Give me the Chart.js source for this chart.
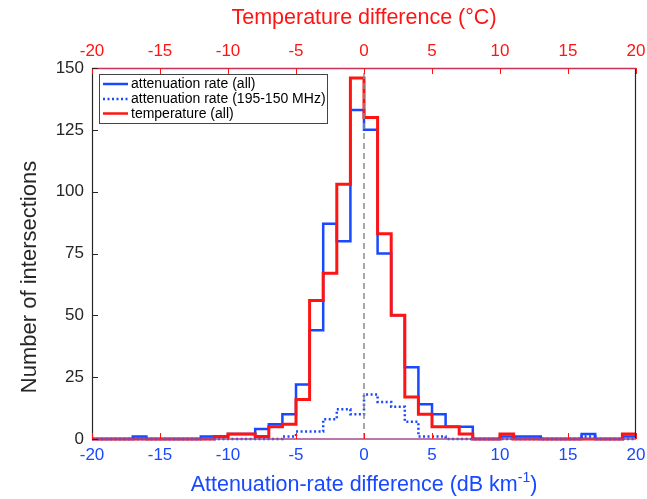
<!DOCTYPE html>
<html><head><meta charset="utf-8">
<script src="https://cdn.jsdelivr.net/npm/chart.js@4.4.0/dist/chart.umd.min.js"></script>
<style>html,body{margin:0;padding:0;background:#fff;}#wrap{width:647px;height:499px;}</style>
</head><body><div id="wrap"><canvas id="c" width="647" height="499"></canvas></div>
<script>
// ---- data (bins of width 1 between consecutive edges) ----
const binEdges = [-20,-19,-18,-17,-16,-15,-14,-13,-12,-11,-10,-9,-8,-7,-6,-5,-4,-3,-2,-1,0,1,2,3,4,5,6,7,8,9,10,11,12,13,14,15,16,17,18,19,20];
const attenuationAll =  [0,0,0,1,0,0,0,0,1,1,2,2,4,6,10,22,44,87,80,133,125,75,50,29,14,10,5,5,0,0,1,1,1,0,0,0,2,0,0,1];
const attenuationBand = [0,0,0,0,0,0,0,0,0,0,0,0,0,0,1,3,3,8,12,10,18,15,13,7,1,1,0,0,0,0,0,0,0,0,0,0,1,0,0,0];
const temperatureAll =  [0,0,0,0,0,0,0,0,0,1,2,2,1,5,6,16,56,67,103,146,130,83,50,17,10,5,5,2,0,0,2,0,0,0,0,0,0,0,0,2];
const xTickValues = [-20,-15,-10,-5,0,5,10,15,20];
const yTickValues = [0,25,50,75,100,125,150];
const seriesNames = ['attenuation rate (all)','attenuation rate (195-150 MHz)','temperature (all)'];

const BLUE = '#1848ff', RED = '#ff1414', DARK = '#262626';
const FONT = '"Liberation Sans", Arial, Helvetica, sans-serif';

function stairs(vals){
  const pts = vals.map((v,i)=>({x:binEdges[i], y:v}));
  pts.push({x:binEdges[vals.length], y:vals[vals.length-1]});
  return pts;
}

const axesPlugin = {
  id:'axesPlugin',
  afterDatasetsDraw(chart){
    const ctx = chart.ctx, a = chart.chartArea;
    const xs = chart.scales.x, ys = chart.scales.y;
    ctx.save();
    // borders
    ctx.lineWidth = 1.2;
    ctx.strokeStyle = DARK;
    ctx.beginPath(); ctx.moveTo(a.left+0.5, a.top); ctx.lineTo(a.left+0.5, a.bottom); ctx.stroke();
    ctx.beginPath(); ctx.moveTo(a.right-0.5, a.top); ctx.lineTo(a.right-0.5, a.bottom); ctx.stroke();
    ctx.strokeStyle = '#c83258';
    ctx.lineWidth = 1.5;
    ctx.beginPath(); ctx.moveTo(a.left, a.top+0.5); ctx.lineTo(a.right, a.top+0.5); ctx.stroke();
    ctx.strokeStyle = '#a44a8e';
    ctx.beginPath(); ctx.moveTo(a.left, a.bottom); ctx.lineTo(a.right, a.bottom); ctx.stroke();
    // tick marks (inward)
    ctx.lineWidth = 1;
    ctx.strokeStyle = RED;
    xTickValues.forEach(v=>{
      const px = Math.round(xs.getPixelForValue(v))+0.5;
      ctx.beginPath(); ctx.moveTo(px, a.top); ctx.lineTo(px, a.top+6); ctx.stroke();
      ctx.beginPath(); ctx.moveTo(px, a.bottom); ctx.lineTo(px, a.bottom-6); ctx.stroke();
    });
    ctx.strokeStyle = DARK;
    yTickValues.forEach(v=>{
      const py = Math.round(ys.getPixelForValue(v))+0.5;
      ctx.beginPath(); ctx.moveTo(a.left, py); ctx.lineTo(a.left+6, py); ctx.stroke();
    });
    // legend
    const lx = 99, ly = 74, lw = 228, lh = 49;
    ctx.fillStyle = '#fff';
    ctx.fillRect(lx, ly, lw, lh);
    ctx.strokeStyle = '#444';
    ctx.lineWidth = 1;
    ctx.strokeRect(lx+0.5, ly+0.5, lw, lh);
    const rows = [84, 99, 113.5];
    const styles = [{c:BLUE,d:[]},{c:BLUE,d:[2,2.5]},{c:RED,d:[]}];
    ctx.font = '14px ' + FONT;
    ctx.textBaseline = 'middle';
    ctx.textAlign = 'left';
    rows.forEach((ry,i)=>{
      ctx.strokeStyle = styles[i].c;
      ctx.lineWidth = 2.5;
      ctx.setLineDash(styles[i].d);
      ctx.beginPath(); ctx.moveTo(103, ry); ctx.lineTo(128, ry); ctx.stroke();
      ctx.setLineDash([]);
      ctx.fillStyle = '#000';
      ctx.fillText(seriesNames[i], 131, ry+0.5);
    });
    // titles
    const cx = (a.left + a.right)/2;
    ctx.font = '21.5px ' + FONT;
    ctx.textAlign = 'center';
    ctx.fillStyle = RED;
    ctx.fillText('Temperature difference (°C)', cx, 18);
    // bottom title with superscript
    const main = 'Attenuation-rate difference (dB km';
    const sup = '-1', close = ')';
    ctx.font = '21.5px ' + FONT;
    const w1 = ctx.measureText(main).width, w3 = ctx.measureText(close).width;
    ctx.font = '14px ' + FONT;
    const w2 = ctx.measureText(sup).width;
    let sx = cx - (w1+w2+w3)/2;
    ctx.textAlign = 'left';
    ctx.fillStyle = BLUE;
    ctx.font = '21.5px ' + FONT;
    ctx.fillText(main, sx, 485);
    ctx.font = '14px ' + FONT;
    ctx.fillText(sup, sx+w1, 478);
    ctx.font = '21.5px ' + FONT;
    ctx.fillText(close, sx+w1+w2, 485);
    // y title
    ctx.save();
    ctx.translate(30, 277);
    ctx.rotate(-Math.PI/2);
    ctx.textAlign = 'center';
    ctx.fillStyle = DARK;
    ctx.font = '22px ' + FONT;
    ctx.fillText('Number of intersections', 0, 0);
    ctx.restore();
    ctx.restore();
  }
};

function fixH(h){ return s=>{ s.height = h; s.paddingLeft = 0; s.paddingRight = 0; }; }

new Chart(document.getElementById('c'), {
  type:'line',
  data:{
    datasets:[
      {label:'zero', data:[{x:0,y:yTickValues[0]},{x:0,y:yTickValues[yTickValues.length-1]}], borderColor:'#8c8c8c', borderWidth:1.5, borderDash:[6,4], pointRadius:0, clip:false},
      {label:seriesNames[1], data:stairs(attenuationBand), stepped:true, borderColor:BLUE, borderWidth:2.5, borderDash:[2,2.5], pointRadius:0, clip:false},
      {label:seriesNames[2], data:stairs(temperatureAll), stepped:true, borderColor:RED, borderWidth:3, pointRadius:0, clip:false},
      {label:seriesNames[0], data:stairs(attenuationAll), stepped:true, borderColor:BLUE, borderWidth:2.5, pointRadius:0, clip:false}
    ]
  },
  options:{
    responsive:false, devicePixelRatio:1, animation:false,
    layout:{padding:{left:0,right:11,top:0,bottom:0}},
    plugins:{legend:{display:false}, tooltip:{enabled:false}},
    elements:{line:{tension:0, fill:false}},
    scales:{
      x:{type:'linear', position:'bottom', min:-20, max:20,
        afterBuildTicks:s=>{s.ticks = xTickValues.map(v=>({value:v}));},
        ticks:{color:BLUE, font:{family:FONT,size:17}, padding:6, maxRotation:0, autoSkip:false},
        grid:{display:false, drawTicks:false}, border:{display:false},
        afterFit:fixH(60)},
      x2:{type:'linear', position:'top', min:-20, max:20,
        afterBuildTicks:s=>{s.ticks = xTickValues.map(v=>({value:v}));},
        ticks:{color:RED, font:{family:FONT,size:17}, padding:6, maxRotation:0, autoSkip:false},
        grid:{display:false, drawTicks:false}, border:{display:false},
        afterFit:fixH(68)},
      y:{type:'linear', min:0, max:150,
        afterBuildTicks:s=>{s.ticks = yTickValues.map(v=>({value:v}));},
        ticks:{color:DARK, font:{family:FONT,size:17}, padding:8},
        grid:{display:false, drawTicks:false}, border:{display:false},
        afterFit:s=>{s.width=92; s.paddingTop=0; s.paddingBottom=0;}}
    }
  },
  plugins:[axesPlugin]
});
</script></body></html>
